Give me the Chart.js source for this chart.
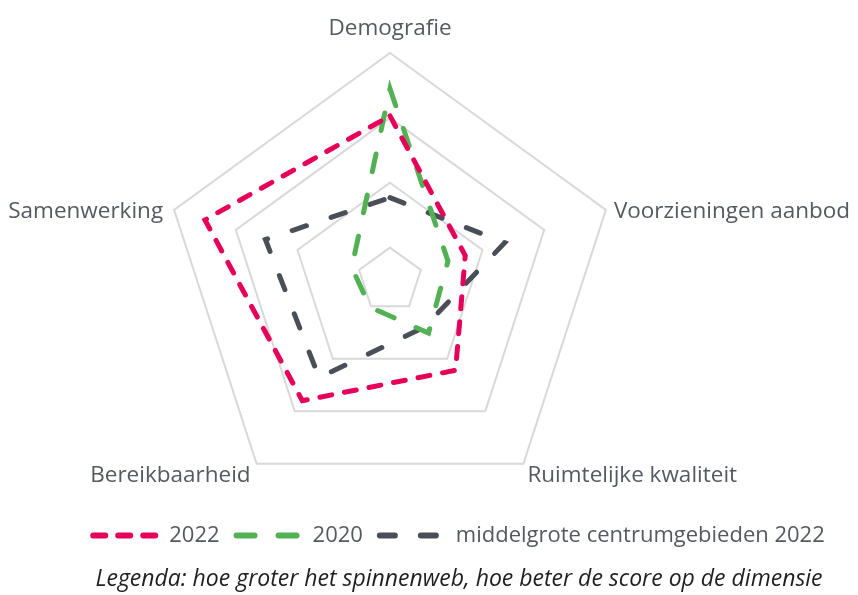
<!DOCTYPE html>
<html>
<head>
<meta charset="utf-8">
<script src="https://cdn.jsdelivr.net/npm/chart.js@4.4.0/dist/chart.umd.min.js"></script>
<style>
  html, body { margin: 0; padding: 0; background: #fff; }
</style>
</head>
<body>
<canvas id="radar" width="858" height="595"></canvas>
<script>
// Dimensies en scores
const dimensies = ["Demografie", "Voorzieningen aanbod", "Ruimtelijke kwaliteit", "Bereikbaarheid", "Samenwerking"]
const scores2022 = [3.03, 1.72, 2.22, 2.80, 3.50]
const scores2020 = [3.45, 1.44, 1.51, 1.02, 1.12]
const scoresMiddelgroot = [1.77, 2.36, 1.40, 2.36, 2.52]
const ringTicks = [0.5, 1, 2, 3, 4]

const tekstKleur = "#555960"
const fontFamily = "'Open Sans', sans-serif"

// Labels rond het spinnenweb, zelf getekend op de posities van de schaal
const dimensieLabels = {
  id: "dimensieLabels",
  afterDraw(chart) {
    const scale = chart.scales.r
    const ctx = chart.ctx
    ctx.save()
    ctx.font = "22.5px " + fontFamily
    ctx.fillStyle = tekstKleur
    ctx.textBaseline = "alphabetic"
    dimensies.forEach((label, i) => {
      const p = scale.getPointPosition(i, scale.drawingArea)
      let x = p.x
      let y = p.y
      let align = "center"
      if (i === 0) {
        y -= 18
      } else if (i === 1) {
        x += 8; y += 8; align = "left"
      } else if (i === 2) {
        x += 4; y += 18; align = "left"
      } else if (i === 3) {
        x -= 6; y += 18; align = "right"
      } else {
        x -= 11; y += 8; align = "right"
      }
      ctx.textAlign = align
      ctx.fillText(label, x, y)
    })
    ctx.restore()
  },
}

const ctx = document.getElementById("radar").getContext("2d")
new Chart(ctx, {
  type: "radar",
  data: {
    labels: dimensies,
    datasets: [
      {
        label: "2022",
        data: scores2022,
        borderColor: "#e6005a",
        backgroundColor: "transparent",
        borderWidth: 5,
        borderDash: [12, 13],
        borderCapStyle: "round",
        borderJoinStyle: "miter",
        fill: false,
        pointRadius: 0,
      },
      {
        label: "2020",
        data: scores2020,
        borderColor: "#52b152",
        backgroundColor: "transparent",
        borderWidth: 5,
        borderDash: [18, 24],
        borderCapStyle: "round",
        borderJoinStyle: "miter",
        fill: false,
        pointRadius: 0,
      },
      {
        label: "middelgrote centrumgebieden 2022",
        data: scoresMiddelgroot,
        borderColor: "#4a4f57",
        backgroundColor: "transparent",
        borderWidth: 5,
        borderDash: [15, 26],
        borderCapStyle: "round",
        borderJoinStyle: "miter",
        fill: false,
        pointRadius: 0,
      },
    ],
  },
  options: {
    responsive: false,
    animation: false,
    events: [],
    layout: {
      padding: { top: 53, left: 60, right: 0, bottom: 0 },
    },
    scales: {
      r: {
        min: 0.5,
        max: 4,
        afterBuildTicks: (scale) => {
          scale.ticks = ringTicks.map((v) => ({ value: v }))
        },
        afterFit: (scale) => {
          scale.xCenter -= 69
        },
        ticks: { display: false },
        pointLabels: { display: false },
        angleLines: { display: false },
        grid: { color: "#d9d9d9", lineWidth: 2 },
      },
    },
    plugins: {
      legend: {
        position: "bottom",
        labels: {
          usePointStyle: true,
          pointStyle: "line",
          pointStyleWidth: 65,
          padding: 17,
          color: tekstKleur,
          font: { size: 22, family: fontFamily },
          // streepjes van de dataset ook in de legenda
          generateLabels: (chart) => {
            const items = Chart.defaults.plugins.legend.labels.generateLabels(chart)
            items.forEach((item) => {
              const ds = chart.data.datasets[item.datasetIndex]
              item.lineDash = ds.borderDash
              item.lineCap = "round"
              item.lineWidth = 6
              item.strokeStyle = ds.borderColor
            })
            return items
          },
        },
      },
      title: {
        display: true,
        position: "bottom",
        text: "Legenda: hoe groter het spinnenweb, hoe beter de score op de dimensie",
        color: "#1f1f1f",
        font: { size: 23, family: fontFamily, style: "italic", weight: "normal" },
        padding: { top: 9, bottom: 2 },
      },
      tooltip: { enabled: false },
    },
  },
  plugins: [dimensieLabels],
})
</script>
</body>
</html>
